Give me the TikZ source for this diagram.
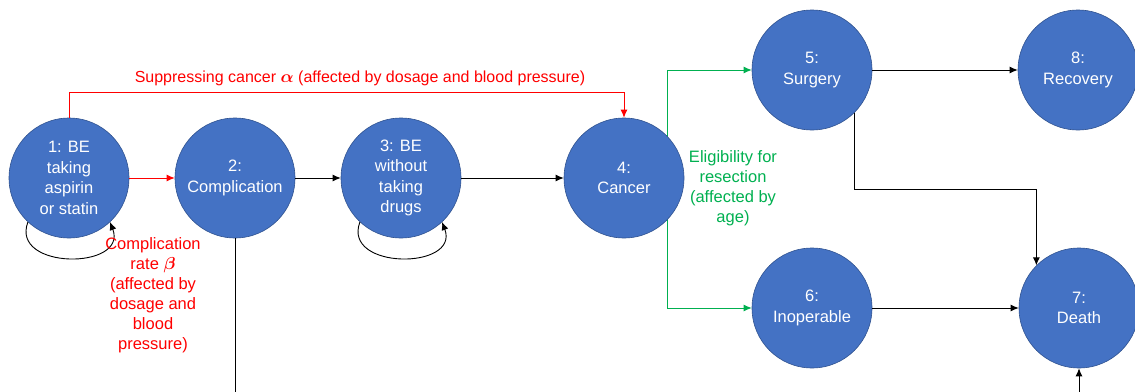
\documentclass[tikz,border=0pt]{standalone}
\usepackage{fontspec}
\setmainfont{Liberation Sans}
\usepackage{amsmath,bm}
\usetikzlibrary{arrows.meta,backgrounds,calc}
\definecolor{nodeblue}{HTML}{4472C4}
\definecolor{nodeedge}{HTML}{2F528F}
\definecolor{lblred}{HTML}{FF0000}
\definecolor{lblgreen}{HTML}{00B050}
\tikzset{
  state/.style={circle, fill=nodeblue, draw=nodeedge, line width=0.6pt, minimum size=120pt, inner sep=0pt,
    text=white, align=center, font=\fontsize{16.5}{20.5}\selectfont},
  conn/.style={line width=0.9pt, -{Latex[length=8pt,width=7pt]}},
  redconn/.style={conn, draw=lblred},
  greenconn/.style={conn, draw=lblgreen},
  lbl/.style={align=center, font=\fontsize{16.5}{20}\selectfont}
}
\begin{document}
\begin{tikzpicture}[x=1pt,y=-1pt]
\useasboundingbox (0,0) rectangle (1135,391);
\clip (0,0) rectangle (1135,391);
\node[state] (n1) at (69,178) {1: BE\\taking\\aspirin\\or statin};
\node[state] (n2) at (235,178) {2:\\Complication};
\node[state] (n3) at (401,178) {3: BE\\without\\taking\\drugs};
\node[state] (n4) at (624,178) {4:\\Cancer};
\node[state] (n5) at (812,70) {5:\\Surgery};
\node[state] (n8) at (1078,70) {8:\\Recovery};
\node[state] (n6) at (812,308) {6:\\Inoperable};
\node[state] (n7) at (1079,308) {7:\\Death};
\coordinate (g) at (667,178);
\coordinate (bot) at (0,430);
\begin{scope}[on background layer]
\draw[greenconn] (g) |- (n5.west);
\draw[greenconn] (g) |- (n6.west);
\end{scope}
\draw[redconn] (n1.north) -- ++(0,-25) -| (n4.north);
\draw[redconn] (n1.east) -- (n2.west);
\draw[conn] (n2.east) -- (n3.west);
\draw[conn] (n3.east) -- (n4.west);
\draw[conn] (n1.-133) .. controls +(-18,48) and +(18,48) .. (n1.-47);
\draw[conn] (n3.-133) .. controls +(-18,48) and +(18,48) .. (n3.-47);
\draw[conn] (n5.east) -- (n8.west);
\draw[conn] (n6.east) -- (n7.west);
\draw[conn] (n5.-45) -- ++(0,77) -| (n7.135);
\draw[conn] (n2.south) -- (n2.south |- bot) -| (n7.south);
\node[lbl, text=lblred, font=\fontsize{16}{20}\selectfont] (la) at (360,78) {Suppressing cancer $\bm{\alpha}$ (affected by dosage and blood pressure)};
\node[lbl, text=lblred] (lb) at (153,295) {Complication\\rate $\bm{\beta}$\\(affected by\\dosage and\\blood\\pressure)};
\node[lbl, text=lblgreen] (lg) at (733,188) {Eligibility for\\resection\\(affected by\\age)};
\end{tikzpicture}
\end{document}
